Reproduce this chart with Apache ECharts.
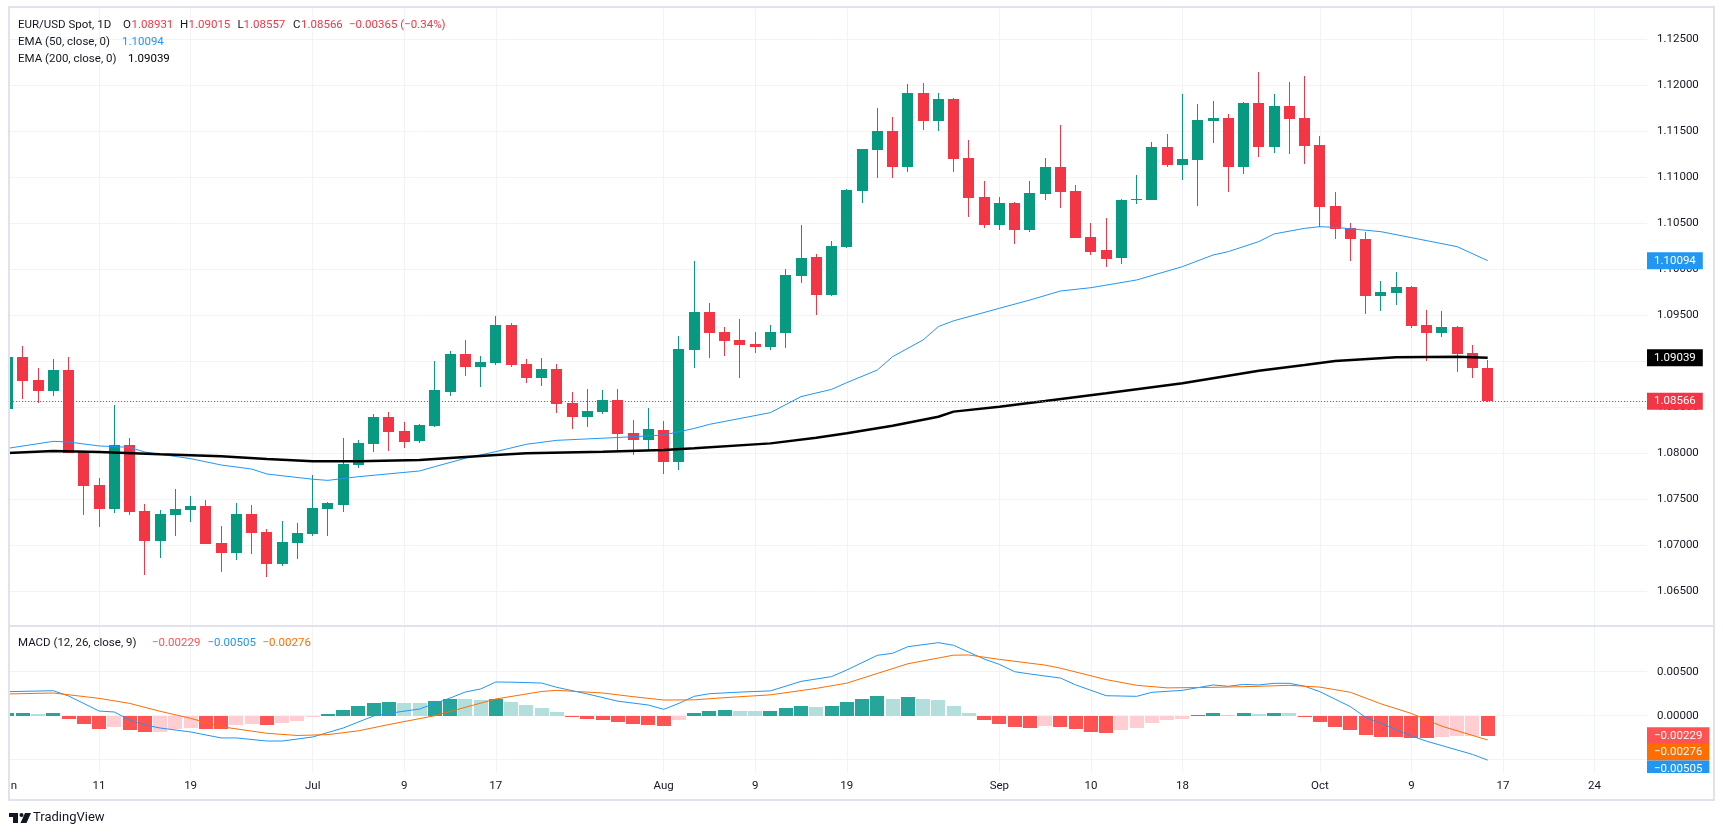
<!DOCTYPE html>
<html><head><meta charset="utf-8">
<script src="https://cdn.jsdelivr.net/npm/echarts@6/dist/echarts.min.js"></script>
<style>html,body{margin:0;padding:0;background:#fff;}#c{width:1723px;height:835px;}</style>
</head><body><div id="c"></div>
<script>
// ---------------- DATA ----------------
const dates = [
 '2024-06-03','2024-06-04','2024-06-05','2024-06-06','2024-06-07','2024-06-10','2024-06-11','2024-06-12','2024-06-13','2024-06-14',
 '2024-06-17','2024-06-18','2024-06-19','2024-06-20','2024-06-21','2024-06-24','2024-06-25','2024-06-26','2024-06-27','2024-06-28',
 '2024-07-01','2024-07-02','2024-07-03','2024-07-04','2024-07-05','2024-07-08','2024-07-09','2024-07-10','2024-07-11','2024-07-12',
 '2024-07-15','2024-07-16','2024-07-17','2024-07-18','2024-07-19','2024-07-22','2024-07-23','2024-07-24','2024-07-25','2024-07-26',
 '2024-07-29','2024-07-30','2024-07-31','2024-08-01','2024-08-02','2024-08-05','2024-08-06','2024-08-07','2024-08-08','2024-08-09',
 '2024-08-12','2024-08-13','2024-08-14','2024-08-15','2024-08-16','2024-08-19','2024-08-20','2024-08-21','2024-08-22','2024-08-23',
 '2024-08-26','2024-08-27','2024-08-28','2024-08-29','2024-08-30','2024-09-02','2024-09-03','2024-09-04','2024-09-05','2024-09-06',
 '2024-09-09','2024-09-10','2024-09-11','2024-09-12','2024-09-13','2024-09-16','2024-09-17','2024-09-18','2024-09-19','2024-09-20',
 '2024-09-23','2024-09-24','2024-09-25','2024-09-26','2024-09-27','2024-09-30','2024-10-01','2024-10-02','2024-10-03','2024-10-04',
 '2024-10-07','2024-10-08','2024-10-09','2024-10-10','2024-10-11','2024-10-14','2024-10-15','2024-10-16'
];
const opens = [
 1.08478,1.09043,1.08797,1.08681,1.08905,1.08018,1.07655,1.07398,1.08090,1.07373,
 1.07050,1.07333,1.07384,1.07427,1.07025,1.06920,1.07340,1.07145,1.06800,1.07029,
 1.07127,1.07398,1.07442,1.07876,1.08105,1.08395,1.08242,1.08134,1.08297,1.08670,
 1.09079,1.08942,1.08985,1.09395,1.08971,1.08822,1.08916,1.08547,1.08398,1.08449,
 1.08579,1.08221,1.08148,1.08253,1.07909,1.09126,1.09536,1.09319,1.09232,1.09188,
 1.09159,1.09311,1.09931,1.10134,1.09724,1.10246,1.10855,1.11300,1.11503,1.11116,
 1.11916,1.11616,1.11851,1.11210,1.10786,1.10485,1.10721,1.10431,1.10822,1.11112,
 1.10851,1.10351,1.10210,1.10126,1.10753,1.10753,1.11329,1.11134,1.11188,1.11616,
 1.11645,1.11112,1.11808,1.11329,1.11775,1.11645,1.11351,1.10688,1.10449,1.10329,
 1.09713,1.09746,1.09808,1.09395,1.09311,1.09373,1.09090,1.08931
];
const highs = [
 1.09060,1.09166,1.08927,1.09025,1.09047,1.08025,1.07728,1.08525,1.08166,1.07449,
 1.07384,1.07612,1.07536,1.07492,1.07210,1.07460,1.07438,1.07177,1.07264,1.07242,
 1.07764,1.07474,1.08166,1.08145,1.08427,1.08449,1.08340,1.08315,1.09003,1.09112,
 1.09232,1.09058,1.09492,1.09416,1.09025,1.09036,1.08971,1.08666,1.08699,1.08688,
 1.08699,1.08362,1.08492,1.08351,1.09275,1.10090,1.09634,1.09373,1.09460,1.09319,
 1.09395,1.10003,1.10482,1.10166,1.10308,1.10873,1.11310,1.11753,1.11655,1.12014,
 1.12025,1.11916,1.11862,1.11405,1.10960,1.10786,1.10732,1.10960,1.11210,1.11568,
 1.10916,1.10503,1.10558,1.10760,1.11025,1.11384,1.11471,1.11905,1.11797,1.11829,
 1.11688,1.11818,1.12145,1.11905,1.12036,1.12101,1.11449,1.10840,1.10503,1.10405,
 1.09873,1.09971,1.09819,1.09561,1.09550,1.09380,1.09181,1.09015
];
const lows = [
 1.08440,1.08590,1.08550,1.08623,1.08000,1.07329,1.07199,1.07355,1.07329,1.06677,
 1.06866,1.07105,1.07257,1.07010,1.06713,1.06844,1.06909,1.06659,1.06779,1.06855,
 1.07105,1.07105,1.07366,1.07844,1.08018,1.08025,1.08061,1.08116,1.08290,1.08623,
 1.08844,1.08724,1.08963,1.08942,1.08768,1.08735,1.08442,1.08268,1.08290,1.08431,
 1.08036,1.07985,1.08029,1.07779,1.07822,1.08931,1.09040,1.09061,1.08822,1.09094,
 1.09126,1.09148,1.09855,1.09507,1.09713,1.10235,1.10724,1.10996,1.10996,1.11061,
 1.11518,1.11507,1.11061,1.10572,1.10453,1.10431,1.10279,1.10409,1.10757,1.10670,
 1.10340,1.10159,1.10029,1.10061,1.10713,1.10750,1.11112,1.10974,1.10692,1.11376,
 1.10844,1.11039,1.11224,1.11268,1.11257,1.11148,1.10463,1.10333,1.10094,1.09518,
 1.09550,1.09616,1.09366,1.09007,1.09268,1.08887,1.08822,1.08557
];
const closes = [
 1.09043,1.08790,1.08681,1.08905,1.08007,1.07648,1.07398,1.08090,1.07366,1.07050,
 1.07340,1.07395,1.07427,1.07018,1.06920,1.07340,1.07137,1.06800,1.07036,1.07134,
 1.07405,1.07460,1.07884,1.08110,1.08395,1.08235,1.08127,1.08308,1.08688,1.09079,
 1.08942,1.08992,1.09395,1.08963,1.08822,1.08916,1.08540,1.08398,1.08460,1.08579,
 1.08213,1.08148,1.08264,1.07909,1.09134,1.09536,1.09311,1.09224,1.09181,1.09159,
 1.09319,1.09938,1.10123,1.09724,1.10253,1.10862,1.11308,1.11503,1.11116,1.11916,
 1.11616,1.11851,1.11203,1.10779,1.10485,1.10721,1.10431,1.10829,1.11112,1.10844,
 1.10344,1.10192,1.10116,1.10753,1.10768,1.11329,1.11134,1.11199,1.11623,1.11645,
 1.11112,1.11808,1.11329,1.11775,1.11634,1.11344,1.10681,1.10442,1.10333,1.09713,
 1.09753,1.09808,1.09387,1.09311,1.09373,1.09083,1.08931,1.08566
];
const ema50At = [0,3,4,6,8,9,12,14,16,17,20,21,23,27,28,30,32,34,36,40,43,45,46,50,52,54,55,57,58,60,61,62,65,67,69,71,74,77,79,80,82,83,85,86,87,90,92,95,97];
const ema50 = [1.08054,1.08130,1.08123,1.08080,1.08065,1.08014,1.07942,1.07873,1.07829,1.07775,1.07718,1.07706,1.07746,1.07808,1.07855,1.07946,1.08018,1.08098,1.08141,1.08172,1.08199,1.08270,1.08315,1.08442,1.08616,1.08695,1.08768,1.08905,1.09050,1.09232,1.09377,1.09440,1.09576,1.09666,1.09764,1.09800,1.09884,1.10029,1.10155,1.10192,1.10301,1.10384,1.10445,1.10463,1.10456,1.10409,1.10344,1.10246,1.10094];
const ema200At = [0,3,6,10,14,17,20,23,27,32,34,39,43,45,50,53,55,58,61,62,65,68,72,77,82,85,87,91,95,97];
const ema200 = [1.08003,1.08025,1.08014,1.07989,1.07967,1.07938,1.07913,1.07913,1.07927,1.07982,1.08000,1.08018,1.08036,1.08054,1.08108,1.08170,1.08217,1.08300,1.08398,1.08453,1.08507,1.08568,1.08652,1.08761,1.08898,1.08960,1.09003,1.09043,1.09050,1.09039];
const macdHist = [
 0.00028,0.00030,0.00020,0.00030,-0.00040,-0.00090,-0.00150,-0.00130,-0.00160,-0.00190,
 -0.00185,-0.00150,-0.00136,-0.00148,-0.00153,-0.00110,-0.00095,-0.00102,-0.00080,-0.00060,
 -0.00020,0.00020,0.00065,0.00110,0.00144,0.00156,0.00144,0.00140,0.00170,0.00192,
 0.00190,0.00180,0.00190,0.00156,0.00120,0.00090,0.00040,-0.00015,-0.00040,-0.00050,
 -0.00070,-0.00090,-0.00106,-0.00120,-0.00045,0.00030,0.00053,0.00065,0.00053,0.00050,
 0.00054,0.00087,0.00110,0.00100,0.00110,0.00156,0.00190,0.00224,0.00190,0.00210,
 0.00190,0.00180,0.00110,0.00030,-0.00050,-0.00090,-0.00130,-0.00135,-0.00120,-0.00125,
 -0.00150,-0.00185,-0.00200,-0.00160,-0.00140,-0.00080,-0.00050,-0.00040,0.00010,0.00030,
 0.00010,0.00030,0.00020,0.00030,0.00028,-0.00015,-0.00070,-0.00130,-0.00160,-0.00220,
 -0.00240,-0.00242,-0.00250,-0.00252,-0.00240,-0.00232,-0.00226,-0.00229
];
const macdAt = [0,3,4,6,7,8,9,10,12,14,15,17,18,20,22,24,25,27,29,30,31,32,33,35,36,38,40,42,43,44,45,46,48,50,52,54,55,57,58,59,61,62,64,65,66,67,69,70,72,74,75,77,79,80,81,82,83,84,85,86,88,89,90,92,93,94,96,97];
const macdLine = [0.00273,0.00284,0.00224,0.00053,0.00042,-0.00049,-0.00105,-0.00140,-0.00185,-0.00253,-0.00253,-0.00288,-0.00288,-0.00242,-0.00140,-0.00003,0.00027,0.00076,0.00200,0.00269,0.00303,0.00383,0.00381,0.00371,0.00322,0.00247,0.00165,0.00121,0.00072,0.00140,0.00220,0.00250,0.00268,0.00282,0.00390,0.00444,0.00519,0.00686,0.00709,0.00784,0.00830,0.00800,0.00644,0.00583,0.00500,0.00474,0.00428,0.00350,0.00227,0.00220,0.00266,0.00288,0.00349,0.00334,0.00356,0.00349,0.00368,0.00368,0.00335,0.00273,0.00103,-0.00019,-0.00085,-0.00230,-0.00290,-0.00340,-0.00440,-0.00505];
const signalAt = [0,3,6,8,10,12,14,17,19,21,23,25,28,30,32,35,36,39,41,43,45,47,50,53,55,57,59,62,63,65,68,69,72,74,76,79,82,84,86,88,90,92,94,97];
const signalLine = [0.00247,0.00258,0.00197,0.00140,0.00050,-0.00030,-0.00125,-0.00200,-0.00225,-0.00215,-0.00172,-0.00100,0.00000,0.00095,0.00190,0.00275,0.00288,0.00258,0.00216,0.00178,0.00180,0.00205,0.00237,0.00310,0.00370,0.00480,0.00590,0.00688,0.00690,0.00640,0.00575,0.00540,0.00410,0.00345,0.00316,0.00322,0.00334,0.00345,0.00325,0.00266,0.00135,0.00025,-0.00120,-0.00276];
const timeTickPos = [6,12,20,26,32,43,49,55,65,71,77,86,92,98,104];
const timeTickText = ['11','19','Jul','9','17','Aug','9','19','Sep','10','18','Oct','9','17','24'];
const firstMonthLabel = 'Jun';
const priceTicks = [1.065,1.070,1.075,1.080,1.085,1.090,1.095,1.100,1.105,1.110,1.115,1.120,1.125];
const macdTicks = [-0.005,0,0.005];
const lastEma50 = 1.10094, lastEma200 = 1.09039, lastClose = 1.08566;
const lastHist = -0.00229, lastSignal = -0.00276, lastMacd = -0.00505;

// ---------------- STYLE ----------------
const UP = '#089981', DOWN = '#f23645';
const H_UP = '#26a69a', H_UP2 = '#b2dfdb', H_DN = '#ff5252', H_DN2 = '#ffcdd2';
const GRIDC = '#f0f3fa', TXT = '#131722', FONT = 'Roboto, sans-serif', FS = 11.5;
const XMIN = 0.164, XMAX = 107.44;
const GL = 10, GR = 76, W = 1723;

const candleData = dates.map((d, i) => [i, opens[i], closes[i], lows[i], highs[i]]);
const histData = macdHist.map((v, i) => [i, v]);
const histColors = macdHist.map((h, i) => {
  const p = i > 0 ? macdHist[i - 1] : h - 1;
  if (h >= 0) return h >= p ? H_UP : H_UP2;
  return h > p ? H_DN2 : H_DN;
});

function clipOf(params) {
  const cs = params.coordSys;
  return { x: cs.x, y: cs.y, width: cs.width, height: cs.height };
}
function renderCandle(params, api) {
  const i = api.value(0), o = api.value(1), c = api.value(2), l = api.value(3), h = api.value(4);
  const po = api.coord([i, o]), pc = api.coord([i, c]), pl = api.coord([i, l]), ph = api.coord([i, h]);
  const clip = clipOf(params);
  const col = c >= o ? UP : DOWN;
  const cx = Math.floor(po[0]);
  const bt = Math.round(Math.min(po[1], pc[1])), bb = Math.round(Math.max(po[1], pc[1]));
  const body = echarts.graphic.clipRectByRect({ x: cx - 5, y: bt, width: 11, height: Math.max(1, bb - bt) }, clip);
  const wt = Math.round(ph[1]), wb = Math.round(pl[1]);
  const wick = echarts.graphic.clipRectByRect({ x: cx, y: wt, width: 1, height: Math.max(1, wb - wt) }, clip);
  const children = [];
  if (wick) children.push({ type: 'rect', shape: wick, style: { fill: col } });
  if (body) children.push({ type: 'rect', shape: body, style: { fill: col } });
  return { type: 'group', children };
}
function renderHist(params, api) {
  const i = api.value(0), v = api.value(1);
  const p0 = api.coord([i, 0]), p1 = api.coord([i, v]);
  const y0 = Math.round(Math.min(p0[1], p1[1])), y1 = Math.round(Math.max(p0[1], p1[1]));
  const r = echarts.graphic.clipRectByRect({ x: Math.round(p0[0] - 7), y: y0, width: 14, height: Math.max(1, y1 - y0) }, clipOf(params));
  if (!r) return null;
  return { type: 'rect', shape: r, style: { fill: histColors[params.dataIndex] } };
}
function boxLabel(text, bg, offY) {
  return { show: true, position: 'end', distance: 0, formatter: text, color: '#fff', backgroundColor: bg,
    padding: [3, 7, 2, 7], fontSize: FS, fontFamily: FONT, lineHeight: 12, offset: [0, offY || 0] };
}
const hidden = { color: 'rgba(255,255,255,0)', width: 1, type: 'solid' };
function fmtSigned(v) { return (v < 0 ? '\u2212' : '') + Math.abs(v).toFixed(5); }

function T(text, x, y, color, size, align) {
  return { type: 'text', z: 100, silent: true, style: { text, x, y, fill: color, font: (size || FS) + 'px ' + FONT, verticalAlign: 'middle', align: align || 'left' } };
}
// x pixel of bar 0 on the shared time scale (partially hidden "Jun" label at the left edge)
const x0px = GL + (0 - XMIN) * ((W - GL - GR) / (XMAX - XMIN));

const xBase = { type: 'value', min: XMIN, max: XMAX, axisLine: { show: false },
  axisTick: { show: false, customValues: timeTickPos },
  splitLine: { show: true, lineStyle: { color: GRIDC, width: 1 } } };

const option = {
  animation: false,
  backgroundColor: '#ffffff',
  textStyle: { fontFamily: FONT },
  grid: [
    { left: GL, right: GR, top: 9, height: 616, outerBoundsMode: 'none' },
    { left: GL, right: GR, top: 627, height: 145, outerBoundsMode: 'none' }
  ],
  xAxis: [
    Object.assign({}, xBase, { gridIndex: 0, axisLabel: { show: false } }),
    Object.assign({}, xBase, { gridIndex: 1, axisLabel: { show: true, customValues: timeTickPos, margin: 8,
      color: TXT, fontSize: FS, fontFamily: FONT,
      formatter: v => { const k = timeTickPos.indexOf(Math.round(v)); return k >= 0 ? timeTickText[k] : ''; } } })
  ],
  yAxis: [
    { type: 'value', gridIndex: 0, position: 'right', min: 1.06134, max: 1.12829, scale: true,
      axisLine: { show: false }, axisTick: { show: false, customValues: priceTicks },
      axisLabel: { customValues: priceTicks, formatter: v => v.toFixed(5), margin: 10, color: TXT, fontSize: FS, fontFamily: FONT },
      splitLine: { show: true, lineStyle: { color: GRIDC, width: 1 } } },
    { type: 'value', gridIndex: 1, position: 'right', min: -0.0064, max: 0.01008,
      axisLine: { show: false }, axisTick: { show: false, customValues: macdTicks },
      axisLabel: { customValues: macdTicks, formatter: v => (v < -1e-9 ? '' : Math.abs(v).toFixed(5)), margin: 10, color: TXT, fontSize: FS, fontFamily: FONT },
      splitLine: { show: true, lineStyle: { color: GRIDC, width: 1 } } }
  ],
  series: [
    { type: 'custom', name: 'EUR/USD', xAxisIndex: 0, yAxisIndex: 0, data: candleData, renderItem: renderCandle,
      encode: { x: 0, y: [1, 2, 3, 4] }, z: 2, silent: true },
    { type: 'line', name: 'EMA 50', xAxisIndex: 0, yAxisIndex: 0, data: ema50At.map((x, k) => [x, ema50[k]]),
      showSymbol: false, symbol: 'none', lineStyle: { color: '#2196f3', width: 1 }, z: 3, silent: true,
      markLine: { symbol: 'none', silent: true, animation: false, precision: 6,
        data: [{ yAxis: lastEma50, lineStyle: hidden, label: boxLabel(lastEma50.toFixed(5), '#2196f3') }] } },
    { type: 'line', name: 'EMA 200', xAxisIndex: 0, yAxisIndex: 0, data: ema200At.map((x, k) => [x, ema200[k]]),
      showSymbol: false, symbol: 'none', lineStyle: { color: '#000000', width: 2.5 }, z: 4, silent: true,
      markLine: { symbol: 'none', silent: true, animation: false, precision: 6,
        data: [
          { yAxis: lastClose, lineStyle: { color: '#f23645', width: 1, type: [1, 2], opacity: 1 }, label: boxLabel(lastClose.toFixed(5), '#f23645') },
          { yAxis: lastEma200, lineStyle: hidden, label: boxLabel(lastEma200.toFixed(5), '#000000') }
        ] } },
    { type: 'custom', name: 'Histogram', xAxisIndex: 1, yAxisIndex: 1, data: histData, renderItem: renderHist,
      encode: { x: 0, y: 1 }, z: 2, silent: true },
    { type: 'line', name: 'MACD', xAxisIndex: 1, yAxisIndex: 1, data: macdAt.map((x, k) => [x, macdLine[k]]),
      showSymbol: false, symbol: 'none', lineStyle: { color: '#2196f3', width: 1 }, z: 3, silent: true,
      markLine: { symbol: 'none', silent: true, animation: false, precision: 6,
        data: [
          { yAxis: lastHist, lineStyle: hidden, label: boxLabel(fmtSigned(lastHist), '#ff5252') },
          { yAxis: lastSignal, lineStyle: hidden, label: boxLabel(fmtSigned(lastSignal), '#ff6d00', 12) },
          { yAxis: lastMacd, lineStyle: hidden, label: boxLabel(fmtSigned(lastMacd), '#2196f3', 9) }
        ] } },
    { type: 'line', name: 'Signal', xAxisIndex: 1, yAxisIndex: 1, data: signalAt.map((x, k) => [x, signalLine[k]]),
      showSymbol: false, symbol: 'none', lineStyle: { color: '#ff6d00', width: 1 }, z: 4, silent: true }
  ],
  graphic: { elements: [
    T(firstMonthLabel, x0px, 786, TXT, FS, 'center'),
    { type: 'rect', z: 101, silent: true, shape: { x: 0, y: 773, width: 10, height: 26 }, style: { fill: '#ffffff' } },
    { type: 'rect', z: 90, silent: true, shape: { x: 1646, y: 773, width: 67, height: 26 }, style: { fill: '#ffffff' } },
    { type: 'line', z: 95, silent: true, shape: { x1: 9, y1: 626, x2: 1714, y2: 626 }, style: { stroke: '#e0e3eb', lineWidth: 2 } },
    { type: 'rect', z: 102, silent: true, shape: { x: 9, y: 7, width: 1705, height: 793 }, style: { fill: 'none', stroke: '#e0e3eb', lineWidth: 2 } },
    T('EUR/USD Spot, 1D', 18, 25, TXT),
    T('O', 123, 25, TXT), T(opens[97].toFixed(5), 131.5, 25, '#f23645'),
    T('H', 180, 25, TXT), T(highs[97].toFixed(5), 188.5, 25, '#f23645'),
    T('L', 237.5, 25, TXT), T(lows[97].toFixed(5), 243.5, 25, '#f23645'),
    T('C', 293, 25, TXT), T(closes[97].toFixed(5), 301, 25, '#f23645'),
    T('\u22120.00365 (\u22120.34%)', 349, 25, '#f23645'),
    T('EMA (50, close, 0)', 18, 42, TXT), T(lastEma50.toFixed(5), 122, 42, '#2196f3'),
    T('EMA (200, close, 0)', 18, 59, TXT), T(lastEma200.toFixed(5), 128, 59, '#000000'),
    T('MACD (12, 26, close, 9)', 18, 643, TXT),
    T(fmtSigned(lastHist), 152, 643, '#ff5252'),
    T(fmtSigned(lastMacd), 207.5, 643, '#2196f3'),
    T(fmtSigned(lastSignal), 262.5, 643, '#ff6d00'),
    { type: 'rect', z: 100, silent: true, shape: { x: 9, y: 813, width: 9, height: 4 }, style: { fill: TXT } },
    { type: 'rect', z: 100, silent: true, shape: { x: 13, y: 813, width: 5, height: 10 }, style: { fill: TXT } },
    { type: 'circle', z: 100, silent: true, shape: { cx: 21.5, cy: 815, r: 2 }, style: { fill: TXT } },
    { type: 'polygon', z: 100, silent: true, shape: { points: [[25, 813], [31, 813], [26.5, 823], [20.5, 823]] }, style: { fill: TXT } },
    T('TradingView', 33, 818, TXT, 13)
  ] }
};

const chart = echarts.init(document.getElementById('c'), null, { renderer: 'canvas', width: 1723, height: 835 });
chart.setOption(option);
</script>
</body></html>
